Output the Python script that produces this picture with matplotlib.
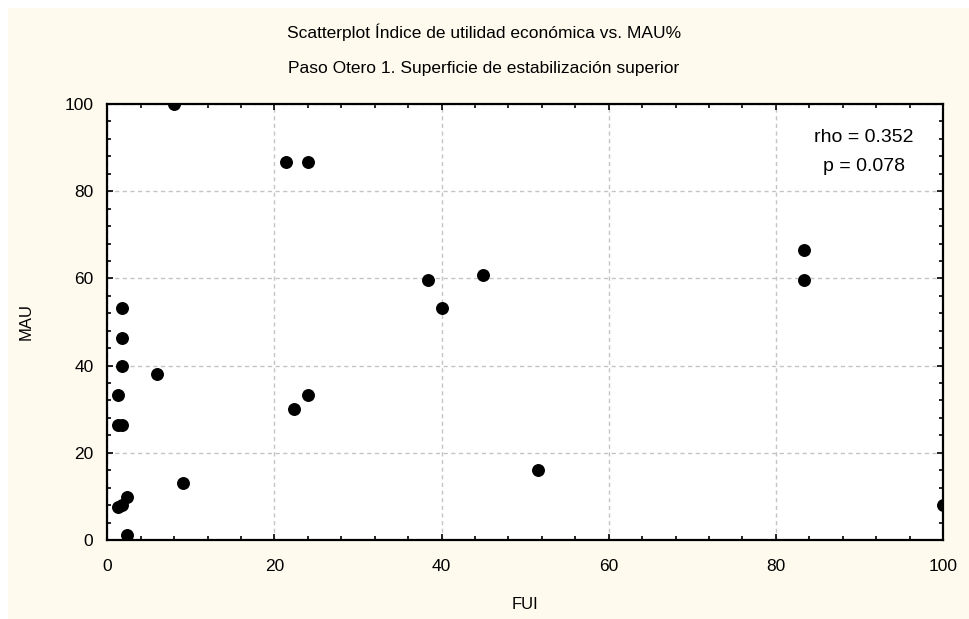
import matplotlib.pyplot as plt
from matplotlib.patches import Rectangle
from matplotlib.ticker import MultipleLocator

plt.rcParams['font.family'] = ['Liberation Sans', 'DejaVu Sans']

fui = [8.0, 21.4, 24.0, 1.8, 1.8, 1.8, 5.9, 1.3, 1.3, 1.8, 9.0, 2.3,
       1.3, 1.75, 2.3, 22.4, 24.0, 38.4, 40.1, 44.9, 51.5, 83.4, 83.4, 100.0]
mau = [100.0, 86.7, 86.7, 53.3, 46.3, 40.0, 38.1, 33.2, 26.4, 26.4, 13.1, 9.9,
       7.6, 8.0, 1.2, 30.0, 33.2, 59.7, 53.3, 60.7, 16.0, 66.5, 59.7, 8.0]

title1 = 'Scatterplot Índice de utilidad económica vs. MAU%'
title2 = 'Paso Otero 1. Superficie de estabilización superior'
stats_text = 'rho = 0.352\np = 0.078'

W, H = 970, 619
fig = plt.figure(figsize=(W / 100, H / 100), dpi=100)
fig.patch.set_facecolor('white')
# cream background with a thin white border on top/left
fig.patches.append(Rectangle((8 / W, 0), 1 - 8 / W, 1 - 8 / H,
                             transform=fig.transFigure, facecolor='#fefbee',
                             edgecolor='none', zorder=-10))

ax = fig.add_axes([107.3 / W, 1 - 540 / H, (943 - 107.3) / W, (540 - 104) / H])
ax.set_facecolor('white')

ax.plot(fui, mau, 'o', color='black', markersize=8.3, zorder=3)

ax.set_xlim(0, 100)
ax.set_ylim(0, 100)
ax.xaxis.set_major_locator(MultipleLocator(20))
ax.yaxis.set_major_locator(MultipleLocator(20))
ax.xaxis.set_minor_locator(MultipleLocator(4))
ax.yaxis.set_minor_locator(MultipleLocator(4))
ax.tick_params(which='both', direction='in', top=True, right=True,
               labelsize=12.5, width=1.2, color='black')
ax.tick_params(which='major', length=4)
ax.tick_params(which='minor', length=3)
ax.tick_params(axis='x', which='major', pad=14)
ax.tick_params(axis='y', which='major', pad=10)
for s in ax.spines.values():
    s.set_linewidth(1.6)

ax.grid(True, which='major', color='#c4c4c4', linestyle=(0, (3, 2.5)),
        linewidth=1.0, zorder=0)
ax.set_axisbelow(True)

ax.set_xlabel('FUI', fontsize=12, labelpad=16)
ax.set_ylabel('MAU', fontsize=12, labelpad=22)

ax.text(0.905, 0.89, stats_text, transform=ax.transAxes, ha='center',
        va='center', fontsize=14, linespacing=1.9)

fig.text(484 / W, 1 - 32 / H, title1, ha='center', va='center', fontsize=12.5)
fig.text(484 / W, 1 - 68 / H, title2, ha='center', va='center', fontsize=12.5)

fig.savefig('out.png', dpi=100, facecolor=fig.get_facecolor())
